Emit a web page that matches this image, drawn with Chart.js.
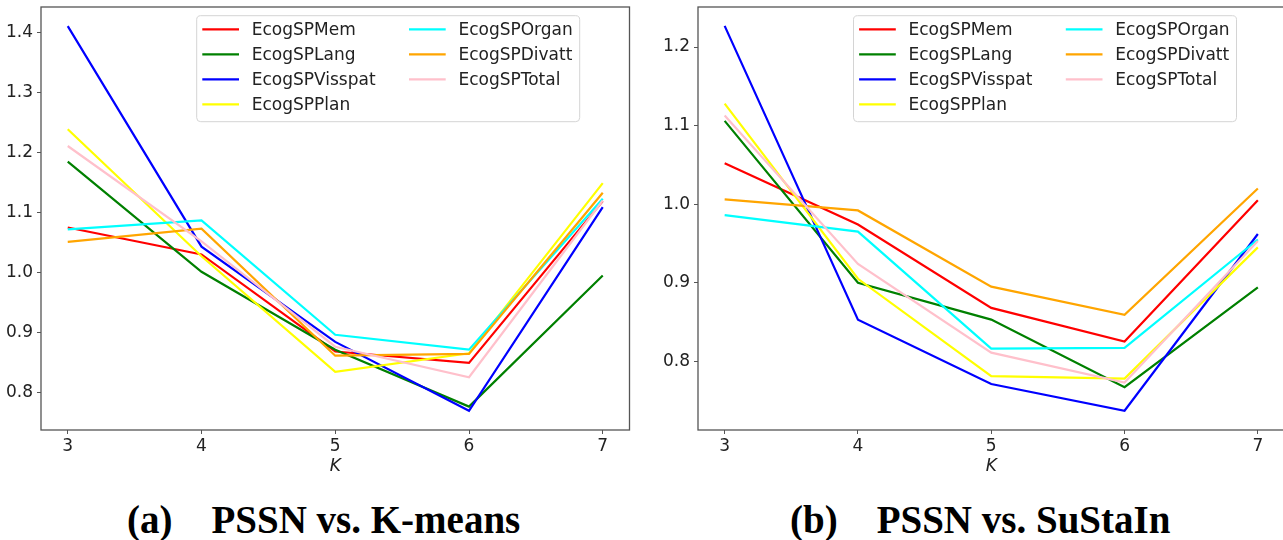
<!DOCTYPE html>
<html>
<head>
<meta charset="utf-8">
<script src="https://cdn.jsdelivr.net/npm/chart.js@4.4.0/dist/chart.umd.min.js"></script>
<style>
    html, body { margin: 0; padding: 0; background: #fff; overflow: hidden; }
    body { width: 1283px; height: 540px; position: relative; }
    canvas { position: absolute; top: 0; }
    #leftChart { left: 0; }
    #rightChart { left: 640px; }
    .caption {
        position: absolute;
        top: 500px;
        font-family: "Liberation Serif", "Times New Roman", serif;
        font-weight: bold;
        font-size: 39px;
        line-height: 39px;
        white-space: pre;
        color: #000;
    }
</style>
</head>
<body>
<canvas id="leftChart" width="640" height="480"></canvas>
<canvas id="rightChart" width="646" height="480"></canvas>
<div class="caption" style="left:127px">(a)    PSSN vs. K-means</div>
<div class="caption" style="left:790px">(b)    PSSN vs. SuStaIn</div>

<script>
const kValues = [3, 4, 5, 6, 7];
const seriesNames = ['EcogSPMem', 'EcogSPLang', 'EcogSPVisspat', 'EcogSPPlan', 'EcogSPOrgan', 'EcogSPDivatt', 'EcogSPTotal'];
const seriesColors = ['#ff0000', '#008000', '#0000ff', '#ffff00', '#00ffff', '#ffa500', '#ffc0cb'];

// (a) PSSN vs. K-means
const kmMem     = [1.075, 1.030, 0.868, 0.849, 1.119];
const kmLang    = [1.185, 1.001, 0.871, 0.776, 0.995];
const kmVisspat = [1.411, 1.043, 0.884, 0.769, 1.109];
const kmPlan    = [1.239, 1.027, 0.834, 0.865, 1.149];
const kmOrgan   = [1.072, 1.087, 0.896, 0.871, 1.123];
const kmDivatt  = [1.051, 1.073, 0.861, 0.864, 1.133];
const kmTotal   = [1.211, 1.052, 0.876, 0.825, 1.120];

// (b) PSSN vs. SuStaIn
const suMem     = [1.052, 0.974, 0.868, 0.825, 1.005];
const suLang    = [1.106, 0.900, 0.853, 0.767, 0.894];
const suVisspat = [1.227, 0.853, 0.771, 0.737, 0.962];
const suPlan    = [1.128, 0.905, 0.781, 0.778, 0.945];
const suOrgan   = [0.986, 0.965, 0.816, 0.817, 0.955];
const suDivatt  = [1.006, 0.992, 0.895, 0.859, 1.020];
const suTotal   = [1.113, 0.924, 0.811, 0.773, 0.953];

const kmTicks = [0.8, 0.9, 1.0, 1.1, 1.2, 1.3, 1.4];
const suTicks = [0.8, 0.9, 1.0, 1.1, 1.2];

const tickFont = { family: '"DejaVu Sans", sans-serif', size: 17 };
const axisColor = '#555';

// box around the plot area, like matplotlib spines
const framePlugin = {
    id: 'frame',
    afterDatasetsDraw(chart) {
        const { ctx, chartArea: a } = chart;
        ctx.save();
        ctx.strokeStyle = axisColor;
        ctx.lineWidth = 1.3;
        ctx.strokeRect(a.left, a.top, a.right - a.left, a.bottom - a.top);
        ctx.restore();
    }
};

// two-column legend box inside the axes
const boxLegend = {
    id: 'boxLegend',
    afterDraw(chart, args, opts) {
        const ctx = chart.ctx;
        const x0 = opts.x, y0 = opts.y, w = 383, h = 106;
        ctx.save();
        ctx.fillStyle = 'rgba(255,255,255,0.8)';
        ctx.strokeStyle = '#d4d4d4';
        ctx.lineWidth = 1;
        ctx.beginPath();
        ctx.roundRect(x0, y0, w, h, 4);
        ctx.fill();
        ctx.stroke();
        ctx.font = '17px "DejaVu Sans"';
        ctx.textBaseline = 'middle';
        chart.data.datasets.forEach((ds, i) => {
            const col = Math.floor(i / 4), row = i % 4;
            const lx = x0 + 5.6 + col * 206.7;
            const ly = y0 + 13.6 + row * 25;
            ctx.strokeStyle = ds.borderColor;
            ctx.lineWidth = 2.2;
            ctx.beginPath();
            ctx.moveTo(lx, ly);
            ctx.lineTo(lx + 36.7, ly);
            ctx.stroke();
            ctx.fillStyle = '#222';
            ctx.fillText(ds.label, lx + 49.4, ly + 1);
        });
        ctx.restore();
    }
};

function makeDatasets(seriesList) {
    return seriesList.map((values, i) => ({
        label: seriesNames[i],
        data: values.map((v, j) => ({ x: kValues[j], y: v })),
        borderColor: seriesColors[i],
        backgroundColor: seriesColors[i],
        borderWidth: 2.2,
        pointRadius: 0,
        tension: 0,
        order: seriesList.length - i
    }));
}

function makeChart(canvasId, seriesList, yTicks, yMin, yMax, yWidth, padRight, legendX) {
    const ctx = document.getElementById(canvasId).getContext('2d');
    return new Chart(ctx, {
        type: 'line',
        data: { datasets: makeDatasets(seriesList) },
        plugins: [framePlugin, boxLegend],
        options: {
            responsive: false,
            animation: false,
            devicePixelRatio: 1,
            layout: { padding: { top: 7, right: padRight, left: 0, bottom: 0 } },
            plugins: {
                legend: { display: false },
                tooltip: { enabled: false },
                boxLegend: { x: legendX, y: 15.7 }
            },
            scales: {
                x: {
                    type: 'linear',
                    min: 2.8,
                    max: 7.2,
                    afterBuildTicks: scale => { scale.ticks = kValues.map(v => ({ value: v })); },
                    afterFit: scale => {
                        scale.height = 50;
                        scale.paddingLeft = 0;
                        scale.paddingRight = 0;
                    },
                    ticks: {
                        color: '#222',
                        font: tickFont,
                        padding: 2,
                        maxRotation: 0,
                        callback: v => String(v)
                    },
                    grid: {
                        drawOnChartArea: false,
                        drawTicks: true,
                        tickLength: 4,
                        tickColor: axisColor
                    },
                    border: { display: false },
                    title: {
                        display: true,
                        text: 'K',
                        color: '#222',
                        font: { family: '"DejaVu Sans", sans-serif', size: 17, style: 'italic' },
                        padding: { top: 0, bottom: 3 }
                    }
                },
                y: {
                    type: 'linear',
                    min: yMin,
                    max: yMax,
                    afterBuildTicks: scale => { scale.ticks = yTicks.map(v => ({ value: v })); },
                    afterFit: scale => {
                        scale.width = yWidth;
                        scale.paddingTop = 0;
                        scale.paddingBottom = 0;
                    },
                    ticks: {
                        color: '#222',
                        font: tickFont,
                        padding: 4,
                        callback: v => v.toFixed(1)
                    },
                    grid: {
                        drawOnChartArea: false,
                        drawTicks: true,
                        tickLength: 4,
                        tickColor: axisColor
                    },
                    border: { display: false }
                }
            }
        }
    });
}

makeChart('leftChart',
    [kmMem, kmLang, kmVisspat, kmPlan, kmOrgan, kmDivatt, kmTotal],
    kmTicks, 0.737, 1.443, 41, 10.5, 196.7);

makeChart('rightChart',
    [suMem, suLang, suVisspat, suPlan, suOrgan, suDivatt, suTotal],
    suTicks, 0.7125, 1.251, 58, 1.5, 213.5);
</script>
</body>
</html>
